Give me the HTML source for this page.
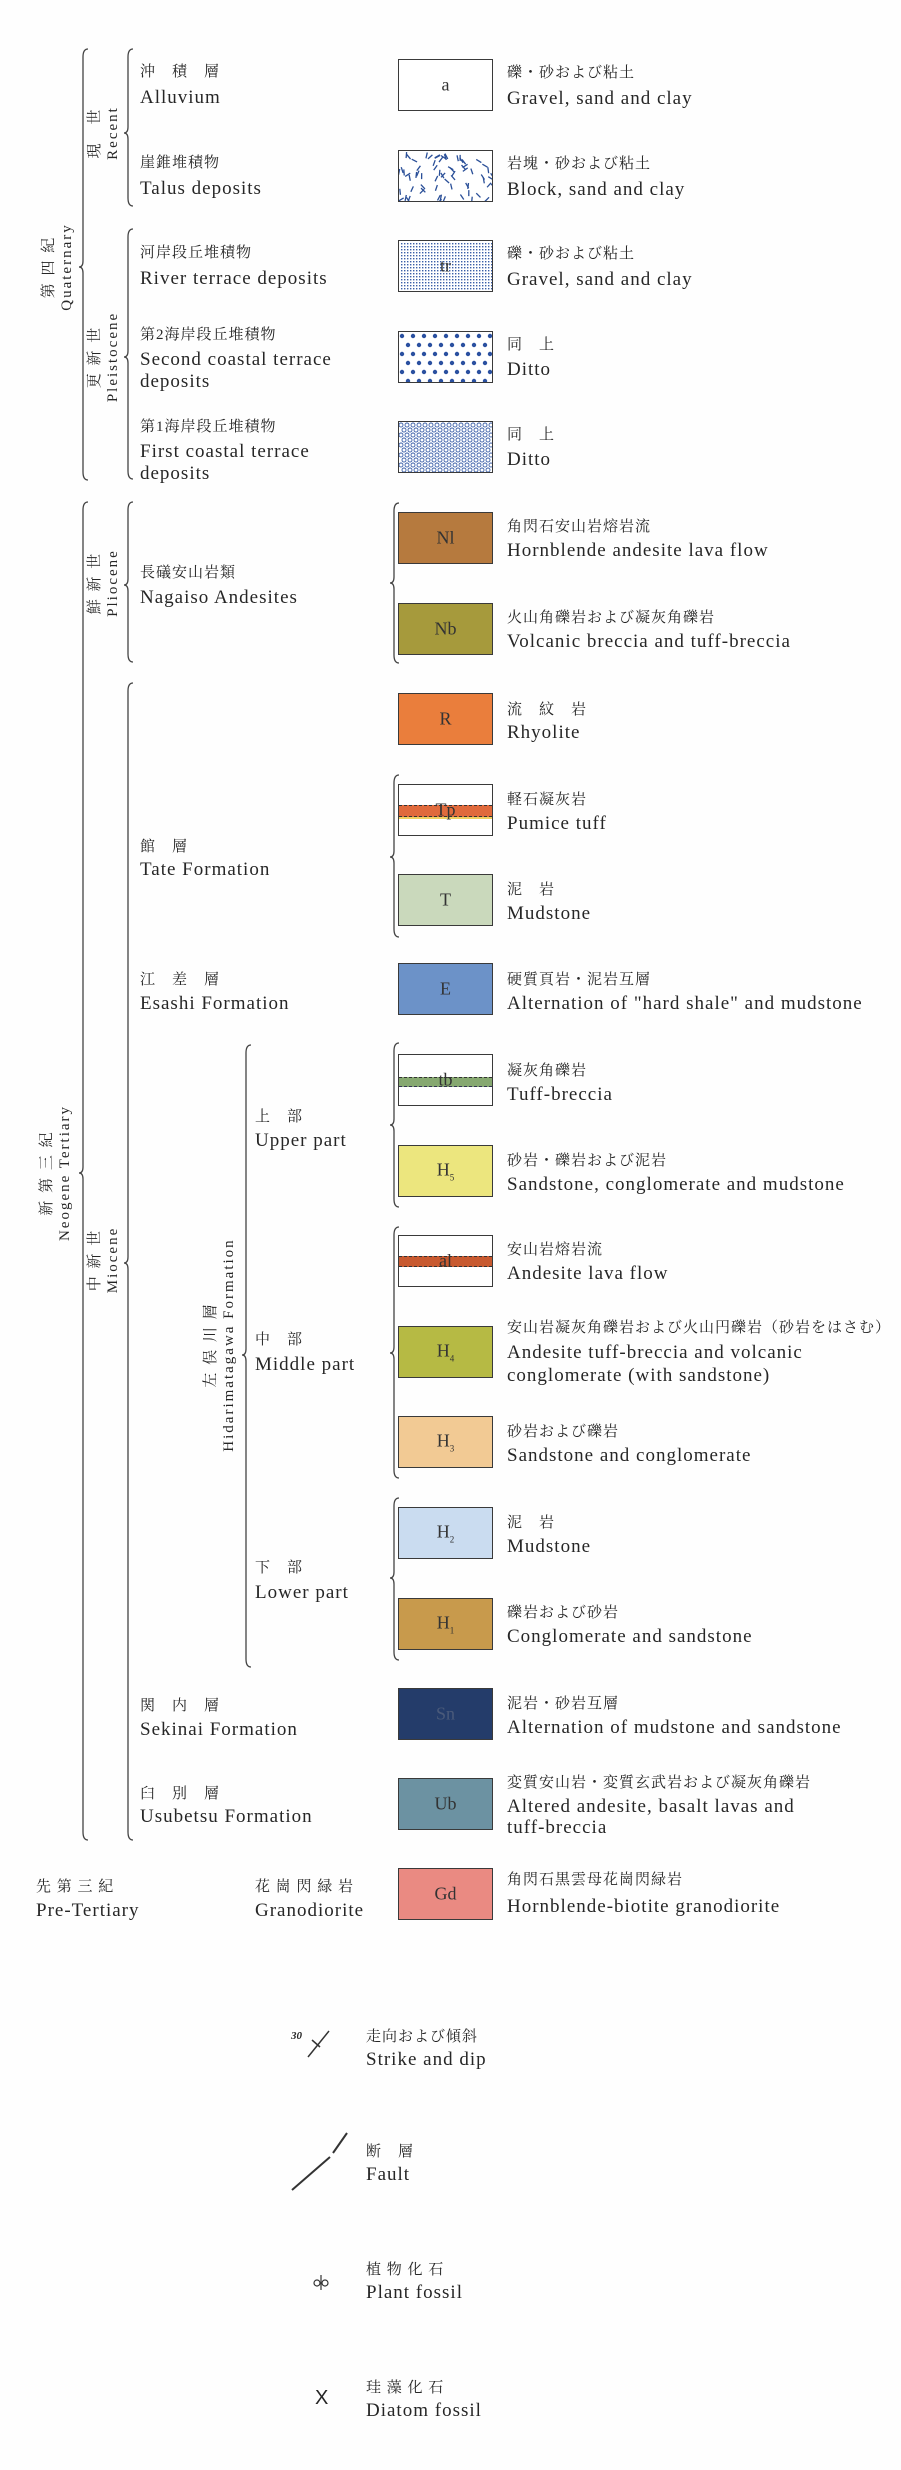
<!DOCTYPE html>
<html><head><meta charset="utf-8">
<style>
body{margin:0;background:#fff;}
#root{position:relative;width:901px;height:2470px;overflow:hidden;background:#fefefe;font-family:"Liberation Serif","Noto Serif CJK SC","Noto Sans CJK JP",serif;color:#262626;}
.t{position:absolute;white-space:nowrap;line-height:1;}
.jp{font-size:15px;letter-spacing:1px;}
.en{font-size:19px;letter-spacing:1px;}
.box{position:absolute;left:398px;width:93px;height:50px;border:1.5px solid #3a3a3a;}
.lbl{position:absolute;left:0;right:0;top:50%;transform:translateY(-50%);text-align:center;font-size:18px;color:#333;}
.v{position:absolute;transform:translate(-50%,-50%) rotate(-90deg);white-space:nowrap;text-align:center;line-height:18px;font-size:15px;letter-spacing:2px;}
svg{position:absolute;left:0;top:0;}
</style></head><body>
<div id="root">
<svg id="s" width="901" height="2470"></svg>

<div class="box" style="top:59px;background:#fff"><div class="lbl">a</div></div>
<div class="box" style="top:150px;background:#fff;overflow:hidden"><svg id="talus" width="93" height="50"></svg></div>
<div class="box" style="top:240px;background:#fff;overflow:hidden"><svg id="tr" width="93" height="50"></svg><div class="lbl">tr</div></div>
<div class="box" style="top:331px;background:#fff;overflow:hidden"><svg id="t2" width="93" height="50"></svg></div>
<div class="box" style="top:421px;background:#fff;overflow:hidden"><svg id="t1" width="93" height="50"></svg></div>

<div class="box" style="top:512px;background:#b67a3e"><div class="lbl">Nl</div></div>
<div class="box" style="top:603px;background:#a69a3c"><div class="lbl">Nb</div></div>
<div class="box" style="top:693px;background:#ea7e3c"><div class="lbl">R</div></div>
<div class="box" style="top:784px;background:#fff;overflow:hidden"><div style="position:absolute;left:0;right:0;top:20px;height:10px;background:#e06a3c;border-top:1px dashed #333;border-bottom:1px dashed #333"></div><div style="position:absolute;left:0;right:0;top:32px;height:2px;background:#f0d060"></div><div class="lbl">Tp</div></div>
<div class="box" style="top:874px;background:#cad9bc"><div class="lbl">T</div></div>
<div class="box" style="top:963px;background:#6c92c8"><div class="lbl">E</div></div>
<div class="box" style="top:1054px;background:#fff;overflow:hidden"><div style="position:absolute;left:0;right:0;top:22px;height:8px;background:#86a870;border-top:1px dashed #333;border-bottom:1px dashed #335"></div><div class="lbl">tb</div></div>
<div class="box" style="top:1145px;background:#ece67e"><div class="lbl">H<sub style="font-size:9px">5</sub></div></div>
<div class="box" style="top:1235px;background:#fff;overflow:hidden"><div style="position:absolute;left:0;right:0;top:20px;height:9px;background:#c85a30;border-top:1px dashed #333;border-bottom:1px dashed #333"></div><div class="lbl">al</div></div>
<div class="box" style="top:1326px;background:#b6ba44"><div class="lbl">H<sub style="font-size:9px">4</sub></div></div>
<div class="box" style="top:1416px;background:#f2ca94"><div class="lbl">H<sub style="font-size:9px">3</sub></div></div>
<div class="box" style="top:1507px;background:#cadcf0"><div class="lbl">H<sub style="font-size:9px">2</sub></div></div>
<div class="box" style="top:1598px;background:#c89a4c"><div class="lbl">H<sub style="font-size:9px">1</sub></div></div>
<div class="box" style="top:1688px;background:#243c6a"><div class="lbl" style="color:#4a5a7a">Sn</div></div>
<div class="box" style="top:1778px;background:#6c92a2"><div class="lbl">Ub</div></div>
<div class="box" style="top:1868px;background:#ea8a82"><div class="lbl">Gd</div></div>

<div class="v" style="left:58px;top:267px">第 四 紀<br>Quaternary</div>
<div class="v" style="left:104px;top:133px">現　世<br>Recent</div>
<div class="v" style="left:104px;top:357px">更 新 世<br>Pleistocene</div>
<div class="v" style="left:104px;top:583px">鮮 新 世<br>Pliocene</div>
<div class="v" style="left:56px;top:1173px">新 第 三 紀<br>Neogene Tertiary</div>
<div class="v" style="left:104px;top:1260px">中 新 世<br>Miocene</div>
<div class="v" style="left:220px;top:1345px">左 俣 川 層<br>Hidarimatagawa Formation</div>

<div class="t jp" style="left:140px;top:65px">沖　積　層</div><div class="t en" style="left:140px;top:88px">Alluvium</div>
<div class="t jp" style="left:140px;top:156px">崖錐堆積物</div><div class="t en" style="left:140px;top:179px">Talus deposits</div>
<div class="t jp" style="left:140px;top:246px">河岸段丘堆積物</div><div class="t en" style="left:140px;top:269px">River terrace deposits</div>
<div class="t jp" style="left:140px;top:328px">第2海岸段丘堆積物</div><div class="t en" style="left:140px;top:350px">Second coastal terrace</div><div class="t en" style="left:140px;top:372px">deposits</div>
<div class="t jp" style="left:140px;top:420px">第1海岸段丘堆積物</div><div class="t en" style="left:140px;top:442px">First coastal terrace</div><div class="t en" style="left:140px;top:464px">deposits</div>
<div class="t jp" style="left:140px;top:566px">長礒安山岩類</div><div class="t en" style="left:140px;top:588px">Nagaiso Andesites</div>
<div class="t jp" style="left:140px;top:840px">館　層</div><div class="t en" style="left:140px;top:860px">Tate Formation</div>
<div class="t jp" style="left:140px;top:973px">江　差　層</div><div class="t en" style="left:140px;top:994px">Esashi Formation</div>
<div class="t jp" style="left:255px;top:1110px">上　部</div><div class="t en" style="left:255px;top:1131px">Upper part</div>
<div class="t jp" style="left:255px;top:1333px">中　部</div><div class="t en" style="left:255px;top:1355px">Middle part</div>
<div class="t jp" style="left:255px;top:1561px">下　部</div><div class="t en" style="left:255px;top:1583px">Lower part</div>
<div class="t jp" style="left:140px;top:1699px">関　内　層</div><div class="t en" style="left:140px;top:1720px">Sekinai Formation</div>
<div class="t jp" style="left:140px;top:1787px">臼　別　層</div><div class="t en" style="left:140px;top:1807px">Usubetsu Formation</div>
<div class="t jp" style="left:36px;top:1880px">先 第 三 紀</div><div class="t en" style="left:36px;top:1901px">Pre-Tertiary</div>
<div class="t jp" style="left:255px;top:1880px">花 崗 閃 緑 岩</div><div class="t en" style="left:255px;top:1901px">Granodiorite</div>

<div class="t jp" style="left:507px;top:66px">礫・砂および粘土</div><div class="t en" style="left:507px;top:89px">Gravel, sand and clay</div>
<div class="t jp" style="left:507px;top:157px">岩塊・砂および粘土</div><div class="t en" style="left:507px;top:180px">Block, sand and clay</div>
<div class="t jp" style="left:507px;top:247px">礫・砂および粘土</div><div class="t en" style="left:507px;top:270px">Gravel, sand and clay</div>
<div class="t jp" style="left:507px;top:338px">同　上</div><div class="t en" style="left:507px;top:360px">Ditto</div>
<div class="t jp" style="left:507px;top:428px">同　上</div><div class="t en" style="left:507px;top:450px">Ditto</div>
<div class="t jp" style="left:507px;top:520px">角閃石安山岩熔岩流</div><div class="t en" style="left:507px;top:541px">Hornblende andesite lava flow</div>
<div class="t jp" style="left:507px;top:611px">火山角礫岩および凝灰角礫岩</div><div class="t en" style="left:507px;top:632px">Volcanic breccia and tuff-breccia</div>
<div class="t jp" style="left:507px;top:703px">流　紋　岩</div><div class="t en" style="left:507px;top:723px">Rhyolite</div>
<div class="t jp" style="left:507px;top:793px">軽石凝灰岩</div><div class="t en" style="left:507px;top:814px">Pumice tuff</div>
<div class="t jp" style="left:507px;top:883px">泥　岩</div><div class="t en" style="left:507px;top:904px">Mudstone</div>
<div class="t jp" style="left:507px;top:973px">硬質頁岩・泥岩互層</div><div class="t en" style="left:507px;top:994px">Alternation of "hard shale" and mudstone</div>
<div class="t jp" style="left:507px;top:1064px">凝灰角礫岩</div><div class="t en" style="left:507px;top:1085px">Tuff-breccia</div>
<div class="t jp" style="left:507px;top:1154px">砂岩・礫岩および泥岩</div><div class="t en" style="left:507px;top:1175px">Sandstone, conglomerate and mudstone</div>
<div class="t jp" style="left:507px;top:1243px">安山岩熔岩流</div><div class="t en" style="left:507px;top:1264px">Andesite lava flow</div>
<div class="t jp" style="left:507px;top:1321px">安山岩凝灰角礫岩および火山円礫岩（砂岩をはさむ）</div><div class="t en" style="left:507px;top:1343px">Andesite tuff-breccia and volcanic</div><div class="t en" style="left:507px;top:1366px">conglomerate (with sandstone)</div>
<div class="t jp" style="left:507px;top:1425px">砂岩および礫岩</div><div class="t en" style="left:507px;top:1446px">Sandstone and conglomerate</div>
<div class="t jp" style="left:507px;top:1516px">泥　岩</div><div class="t en" style="left:507px;top:1537px">Mudstone</div>
<div class="t jp" style="left:507px;top:1606px">礫岩および砂岩</div><div class="t en" style="left:507px;top:1627px">Conglomerate and sandstone</div>
<div class="t jp" style="left:507px;top:1697px">泥岩・砂岩互層</div><div class="t en" style="left:507px;top:1718px">Alternation of mudstone and sandstone</div>
<div class="t jp" style="left:507px;top:1776px">変質安山岩・変質玄武岩および凝灰角礫岩</div><div class="t en" style="left:507px;top:1797px">Altered andesite, basalt lavas and</div><div class="t en" style="left:507px;top:1818px">tuff-breccia</div>
<div class="t jp" style="left:507px;top:1873px">角閃石黒雲母花崗閃緑岩</div><div class="t en" style="left:507px;top:1897px">Hornblende-biotite granodiorite</div>

<div class="t" style="left:291px;top:2031px;font-size:11px;font-style:italic;font-weight:bold">30</div>
<div class="t jp" style="left:366px;top:2030px">走向および傾斜</div><div class="t en" style="left:366px;top:2050px">Strike and dip</div>
<div class="t jp" style="left:366px;top:2145px">断　層</div><div class="t en" style="left:366px;top:2165px">Fault</div>
<div class="t jp" style="left:366px;top:2263px">植 物 化 石</div><div class="t en" style="left:366px;top:2283px">Plant fossil</div>
<div class="t jp" style="left:366px;top:2381px">珪 藻 化 石</div><div class="t en" style="left:366px;top:2401px">Diatom fossil</div>
<div class="t" style="left:315px;top:2388px;font-size:20px;font-family:'Liberation Sans',sans-serif">X</div>
</div>
<script>
var NS="http://www.w3.org/2000/svg";
function add(svg,tag,attrs){var e=document.createElementNS(NS,tag);for(var k in attrs)e.setAttribute(k,attrs[k]);svg.appendChild(e);return e;}
var s=document.getElementById('s');
function brace(x,y1,y2,tip){
 var d="M"+(x+5)+" "+y1+" Q"+x+" "+y1+" "+x+" "+(y1+8)+" L"+x+" "+(tip-6)+" Q"+x+" "+tip+" "+(x-4)+" "+tip+" Q"+x+" "+tip+" "+x+" "+(tip+6)+" L"+x+" "+(y2-8)+" Q"+x+" "+y2+" "+(x+5)+" "+y2;
 add(s,'path',{d:d,fill:'none',stroke:'#444','stroke-width':1.3});
}
brace(83,49,480,267);
brace(128,49,206,133);
brace(128,229,479,357);
brace(83,502,1840,1173);
brace(128,502,662,585);
brace(128,683,1840,1263);
brace(246,1045,1667,1355);
brace(394,503,663,583);
brace(394,775,937,857);
brace(394,1043,1207,1125);
brace(394,1227,1478,1353);
brace(394,1498,1660,1578);
add(s,'line',{x1:329,y1:2031,x2:308,y2:2057,stroke:'#333','stroke-width':1.5});
add(s,'line',{x1:312,y1:2040,x2:320,y2:2047,stroke:'#333','stroke-width':1.5});
add(s,'line',{x1:347,y1:2133,x2:333,y2:2153,stroke:'#333','stroke-width':2});
add(s,'line',{x1:330,y1:2157,x2:292,y2:2190,stroke:'#333','stroke-width':2});
add(s,'circle',{cx:317,cy:2283,r:3,fill:'none',stroke:'#333','stroke-width':1.2});
add(s,'circle',{cx:325,cy:2283,r:3,fill:'none',stroke:'#333','stroke-width':1.2});
add(s,'line',{x1:321,y1:2275,x2:321,y2:2290,stroke:'#333','stroke-width':1.2});
var seed=7;function r(){seed=(seed*9301+49297)%233280;return seed/233280;}
var ta=document.getElementById('talus');
for(var i=0;i<70;i++){var x=r()*93,y=r()*50,a=Math.PI/2+(r()-0.5)*2.2;add(ta,'line',{x1:x,y1:y,x2:x+Math.cos(a)*6,y2:y+Math.sin(a)*6,stroke:'#2a4f98','stroke-width':1.3});}
var tr=document.getElementById('tr');
for(var x=2;x<93;x+=3)for(var y=2;y<50;y+=3)add(tr,'rect',{x:x,y:y,width:1.4,height:1.4,fill:'#3a5fa8'});
var t2=document.getElementById('t2');
for(var y=4,row=0;y<50;y+=9,row++)for(var x=(row%2?9:3);x<93;x+=11)add(t2,'circle',{cx:x,cy:y,r:2.2,fill:'#2a50a0'});
var t1=document.getElementById('t1');
for(var y=3,row=0;y<52;y+=5,row++)for(var x=(row%2?5:2);x<95;x+=6)add(t1,'circle',{cx:x,cy:y,r:2,fill:'none',stroke:'#3a5fa8','stroke-width':0.9});
</script>
</body></html>
